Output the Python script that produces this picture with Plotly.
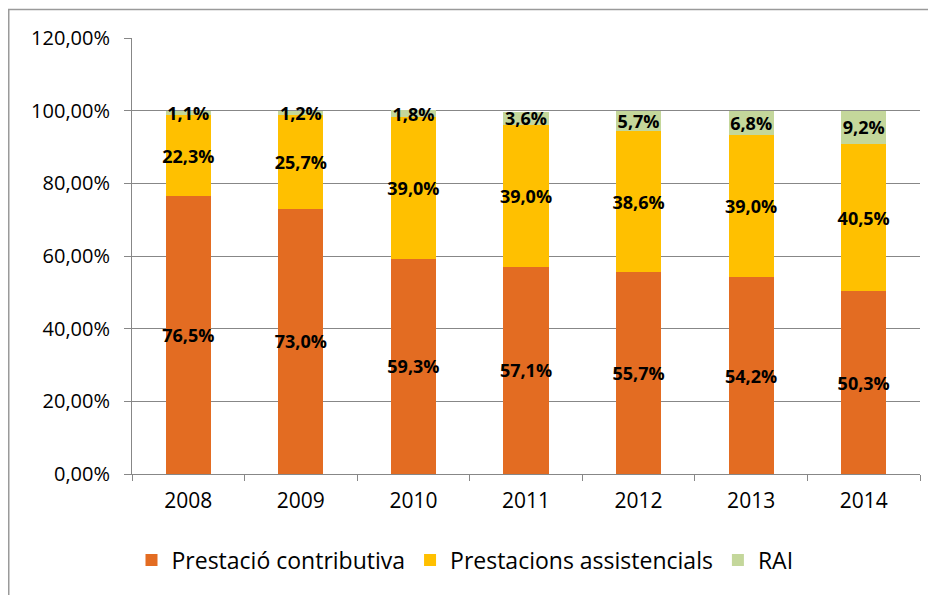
import plotly.graph_objects as go

years = ["2008", "2009", "2010", "2011", "2012", "2013", "2014"]
contributiva = [76.5, 73.0, 59.3, 57.1, 55.7, 54.2, 50.3]
assistencials = [22.3, 25.7, 39.0, 39.0, 38.6, 39.0, 40.5]
rai = [1.1, 1.2, 1.8, 3.6, 5.7, 6.8, 9.2]
series_names = ["Prestació contributiva", "Prestacions assistencials", "RAI"]
colors = ["#E36C22", "#FFC000", "#C4D79B"]
y_ticks = [0, 20, 40, 60, 80, 100, 120]
y_tick_labels = ["0,00%", "20,00%", "40,00%", "60,00%", "80,00%", "100,00%", "120,00%"]

FONT = "Open Sans"
W, H = 928, 587
L, R, T, B = 124, 16, 30, 121
PW, PH = W - L - R, H - T - B

fig = go.Figure()
for name, vals, col in zip(series_names, [contributiva, assistencials, rai], colors):
    fig.add_trace(go.Bar(
        x=years, y=vals, name=name,
        marker=dict(color=col, line=dict(width=0)),
        texttemplate="%{y:.1f}%", textposition="inside", textangle=0,
        insidetextanchor="middle", constraintext="none",
        textfont=dict(family=FONT, size=18, color="black", weight="bold"),
    ))

fig.update_layout(
    width=W, height=H,
    barmode="stack", bargap=0.6,
    separators=",.",
    paper_bgcolor="white", plot_bgcolor="white",
    margin=dict(l=L, r=R, t=T, b=B, autoexpand=False),
    font=dict(family=FONT, size=20, color="black"),
    uniformtext=dict(minsize=18, mode="show"),
    showlegend=True,
    legend=dict(orientation="h", x=(465 - 132) / PW, xanchor="center",
                yref="container", y=1 - 552 / H, yanchor="middle",
                font=dict(family=FONT, size=23, color="black"), traceorder="normal",
                itemwidth=30),
    xaxis=dict(type="category", tickson="boundaries", ticks="outside", ticklen=6,
               tickcolor="#878787", showline=True, linecolor="#878787", linewidth=1,
               showgrid=False, tickfont=dict(size=21), automargin=False,
               ticklabelstandoff=8),
    yaxis=dict(range=[0, 120], tickvals=y_ticks, ticktext=y_tick_labels,
               ticks="outside", ticklen=7, tickcolor="#878787",
               showline=True, linecolor="#878787", linewidth=1,
               showgrid=True, gridcolor="#878787", gridwidth=1,
               zeroline=False, tickfont=dict(size=20), automargin=False,
               ticklabelstandoff=10),
    shapes=[dict(type="rect", xref="paper", yref="paper",
                 x0=(0.75 - L) / PW, x1=1.2, y0=-0.5, y1=1 + (T - 1.5) / PH,
                 line=dict(color="#9A9A9A", width=1.5), layer="below")],
)

fig.write_html("out.html")
